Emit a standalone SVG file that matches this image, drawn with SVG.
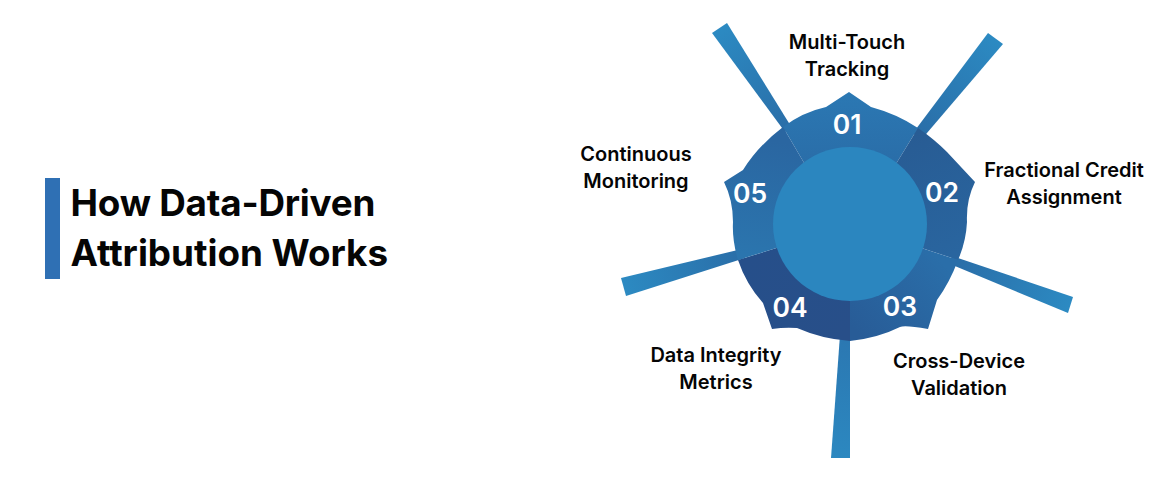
<svg xmlns="http://www.w3.org/2000/svg" width="1170" height="480" viewBox="0 0 1170 480">
<style>
.t{font-family:Inter,"Liberation Sans",sans-serif;fill:#050505}
.title{font-size:36.8px;font-weight:700}
.lab{font-size:20px;font-weight:600;text-anchor:middle}
.num{font-family:Inter,"Liberation Sans",sans-serif;font-size:26.5px;font-weight:600;fill:#fff;text-anchor:middle}
</style>
<defs>
<linearGradient id="s1" gradientUnits="userSpaceOnUse" x1="720" y1="28" x2="785" y2="125"><stop offset="0" stop-color="#2c8ac2"/><stop offset="1" stop-color="#2a6fa9"/></linearGradient>
<linearGradient id="s2" gradientUnits="userSpaceOnUse" x1="995" y1="38" x2="922" y2="131"><stop offset="0" stop-color="#2c8ac2"/><stop offset="1" stop-color="#2a6fa9"/></linearGradient>
<linearGradient id="s3" gradientUnits="userSpaceOnUse" x1="1070" y1="305" x2="960" y2="264"><stop offset="0" stop-color="#2c8ac2"/><stop offset="1" stop-color="#2a6fa9"/></linearGradient>
<linearGradient id="s4" gradientUnits="userSpaceOnUse" x1="840" y1="458" x2="845" y2="341"><stop offset="0" stop-color="#2c88c0"/><stop offset="1" stop-color="#2b78b2"/></linearGradient>
<linearGradient id="s5" gradientUnits="userSpaceOnUse" x1="623" y1="287" x2="737" y2="255"><stop offset="0" stop-color="#2c8ac2"/><stop offset="1" stop-color="#2a6fa9"/></linearGradient>
<linearGradient id="g1" gradientUnits="userSpaceOnUse" x1="849" y1="92" x2="849" y2="160"><stop offset="0" stop-color="#2b78b3"/><stop offset="1" stop-color="#2a6ea9"/></linearGradient>
<linearGradient id="g2" gradientUnits="userSpaceOnUse" x1="905" y1="140" x2="960" y2="250"><stop offset="0" stop-color="#285c94"/><stop offset="1" stop-color="#29659f"/></linearGradient>
<linearGradient id="g3" gradientUnits="userSpaceOnUse" x1="940" y1="260" x2="860" y2="335"><stop offset="0" stop-color="#2a6ea9"/><stop offset="1" stop-color="#285c97"/></linearGradient>
<linearGradient id="g4" gradientUnits="userSpaceOnUse" x1="745" y1="265" x2="845" y2="335"><stop offset="0" stop-color="#264f8a"/><stop offset="1" stop-color="#284f89"/></linearGradient>
<linearGradient id="g5" gradientUnits="userSpaceOnUse" x1="770" y1="140" x2="750" y2="255"><stop offset="0" stop-color="#2a66a1"/><stop offset="1" stop-color="#2b75ae"/></linearGradient>
</defs>
<rect id="accent-bar" x="45" y="178" width="15" height="101" fill="#2f70b4"/>
<g id="title"><text class="t title" x="70.500" y="216" letter-spacing="-0.2">How Data-Driven</text><text class="t title" x="70.500" y="266">Attribution Works</text></g>
<g id="connectors">
<polygon points="712,33 727,23 792,128 785,132" fill="url(#s1)"/>
<polygon points="988,33 1003,44 921,140 913,133" fill="url(#s2)"/>
<polygon points="1073,297 1068,313 950,264 952,256" fill="url(#s3)"/>
<polygon points="831,458 850,458 850,335 840,335" fill="url(#s4)"/>
<polygon points="621,278 626,296 745,258 742,249" fill="url(#s5)"/>
</g>
<g id="node-01">
<path d="M783,127 Q803,112 826,107 L849,92 L871,107 Q897,114 918,128 L880,190 L820,190 Z" fill="url(#g1)"/>
<text class="num" x="847" y="134">01</text>
<text class="t lab" x="847" y="49">Multi-Touch</text><text class="t lab" x="847" y="76">Tracking</text>
</g>
<g id="node-02">
<path d="M918,128 Q934,139 947,152 L975,182 Q966,200 967,222 Q966,242 958,260 L885,236 L880,190 Z" fill="url(#g2)"/>
<text class="num" x="942" y="202">02</text>
<text class="t lab" x="1064" y="177">Fractional Credit</text><text class="t lab" x="1064" y="204">Assignment</text>
</g>
<g id="node-03">
<path d="M958,260 Q950,282 937,300 L928,329 Q905,325 900,327 Q878,338 850,341 L850,260 L885,236 Z" fill="url(#g3)"/>
<text class="num" x="900" y="316">03</text>
<text class="t lab" x="959" y="368">Cross-Device</text><text class="t lab" x="959" y="395">Validation</text>
</g>
<g id="node-04">
<path d="M850,341 Q822,339 797,328 Q785,327 772,329 L763,303 Q746,284 738,260 L815,236 L850,260 Z" fill="url(#g4)"/>
<text class="num" x="790" y="317">04</text>
<text class="t lab" x="716" y="362">Data Integrity</text><text class="t lab" x="716" y="389">Metrics</text>
</g>
<g id="node-05">
<path d="M738,260 Q732,240 733,222 Q733,200 724,182 L743,170 Q758,146 783,127 L820,190 L815,236 Z" fill="url(#g5)"/>
<text class="num" x="750" y="203">05</text>
<text class="t lab" x="636" y="161">Continuous</text><text class="t lab" x="636" y="188">Monitoring</text>
</g>
<circle id="hub" cx="850" cy="224" r="77" fill="#2b86bf"/>
</svg>
